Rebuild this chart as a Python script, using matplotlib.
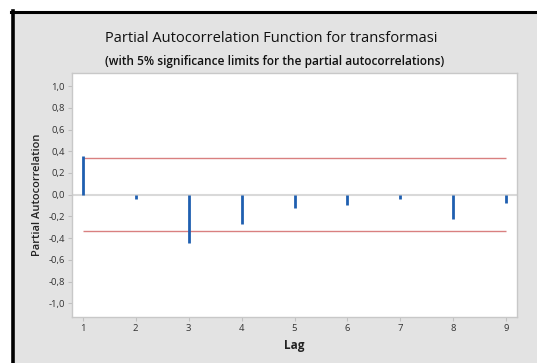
import matplotlib
matplotlib.use("Agg")
import matplotlib.pyplot as plt
from matplotlib.patches import Rectangle
from matplotlib.lines import Line2D

lags = [1, 2, 3, 4, 5, 6, 7, 8, 9]
pacf = [0.356, -0.043, -0.44, -0.27, -0.12, -0.095, -0.037, -0.225, -0.077]
sig_limit = 0.337
yticks = [1.0, 0.8, 0.6, 0.4, 0.2, 0.0, -0.2, -0.4, -0.6, -0.8, -1.0]
ytick_labels = ["1,0", "0,8", "0,6", "0,4", "0,2", "0,0", "-0,2", "-0,4", "-0,6", "-0,8", "-1,0"]

plt.rcParams['font.family'] = ['Open Sans', 'DejaVu Sans']

W, H = 537, 363
fig = plt.figure(figsize=(W/100, H/100), dpi=100)
fig.patch.set_facecolor('white')

# gray panel and black frame
fig.add_artist(Rectangle((12/W, 0), 1, (H-12)/H, transform=fig.transFigure,
                         facecolor='#e3e3e3', edgecolor='none', zorder=0))
fig.add_artist(Line2D([11/W, 1], [(H-12)/H, (H-12)/H], transform=fig.transFigure,
                      color='black', linewidth=2.2, zorder=1))
fig.add_artist(Line2D([12.8/W, 12.8/W], [0, (H-11)/H], transform=fig.transFigure,
                      color='black', linewidth=2.6, zorder=1))

ax = fig.add_axes([72/W, (H-317)/H, (517-72)/W, (317-73)/H])
ax.set_facecolor('white')
for s in ax.spines.values():
    s.set_color('#c8c8c8')
    s.set_linewidth(1.0)

ax.axhline(0, color='#d9d9d9', linewidth=1.5, zorder=1)
ax.hlines([sig_limit, -sig_limit], lags[0], lags[-1], color='#d98080', linewidth=1.0, zorder=2)
ax.vlines(lags, 0, pacf, color='#1f5fb0', linewidth=2.0, zorder=3)

ax.set_xlim(0.8, 9.2)
ax.set_ylim(-1.125, 1.12)
ax.set_xticks(lags)
ax.set_xticklabels([str(l) for l in lags])
ax.set_yticks(yticks)
ax.set_yticklabels(ytick_labels)
ax.tick_params(axis='both', colors='#c0c0c0', labelcolor='#333333', labelsize=6.8, length=3, width=0.8, pad=2)

fig.text(0.505, (H-39)/H, "Partial Autocorrelation Function for transformasi",
         ha='center', va='center', fontsize=10.5, color='#111111', fontweight='medium')
fig.text(0.511, (H-62)/H, "(with 5% significance limits for the partial autocorrelations)",
         ha='center', va='center', fontsize=8.6, color='#111111', fontweight='semibold')
fig.text(294/W, (H-345)/H, "Lag", ha='center', va='center', fontsize=8.5, fontweight='bold', color='#222222')
fig.text(38/W, (H-195)/H, "Partial Autocorrelation", ha='center', va='center', rotation=90,
         fontsize=8, fontweight='semibold', color='#222222')

fig.savefig("out.png", dpi=100, facecolor=fig.get_facecolor())
